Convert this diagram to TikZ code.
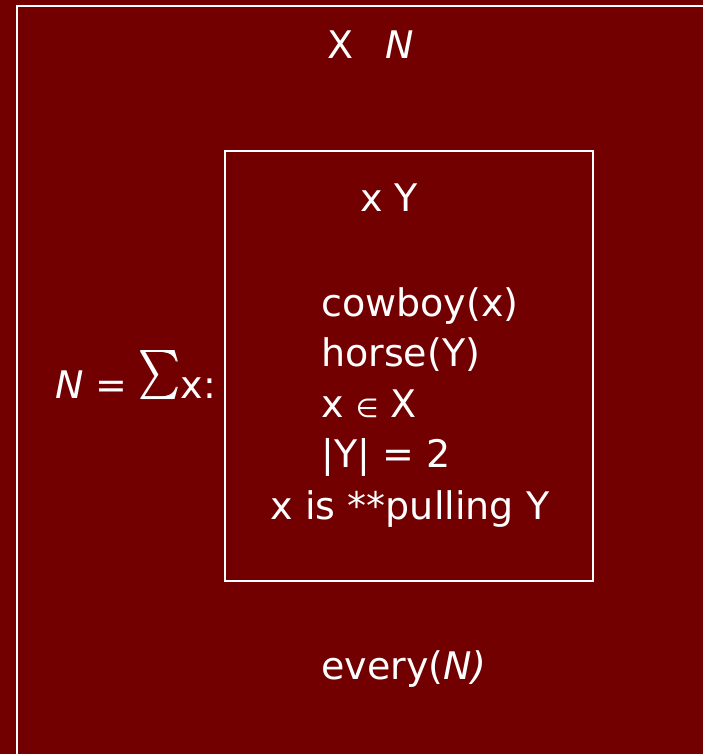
\documentclass[tikz,border=0pt]{standalone}
\usepackage{fontspec}
\usepackage{graphicx}
\setmainfont{DejaVu Sans}
\definecolor{bgred}{RGB}{114,0,0}
\newcommand{\bigsumsym}{\raisebox{-8pt}{\resizebox*{42pt}{55pt}{\raisebox{\depth}{\rlap{$\sum$}\hspace{0.25pt}$\sum$}}}}
\begin{document}
\begin{tikzpicture}[x=1pt,y=-1pt,
  frame/.style={draw=white,line width=2.8pt},
  txt/.style={text=white,inner sep=0pt,font=\fontsize{38}{45}\selectfont}]
\clip (0,0) rectangle (703,754);
\fill[bgred] (0,0) rectangle (703,754);
\draw[frame] (17,6) rectangle (730,790);
\draw[frame] (225,151) rectangle (593,581);
\node[txt,anchor=base] (top) at (371,59) {X\hspace{0.85em}{\itshape N}};
\node[txt,anchor=base] (xy) at (389,211) {x Y};
\node[txt,anchor=base west] (l1) at (321,316) {cowboy(x)};
\node[txt,anchor=base west] (l2) at (321,366) {horse(Y)};
\node[txt,anchor=base west] (l3) at (321,417) {x {\fontsize{26}{30}\selectfont ∈} X};
\node[txt,anchor=base west] (l4) at (321,467) {|Y| = 2};
\node[txt,anchor=base] (l5) at (410,519) {x is **pulling Y};
\node[txt,anchor=base west] (sum) at (55,398) {{\itshape N} {\itshape =}\hspace{0.3em}\bigsumsym x:};
\node[txt,anchor=base west] (ev) at (321,679) {every({\itshape N)}};
\end{tikzpicture}
\end{document}
